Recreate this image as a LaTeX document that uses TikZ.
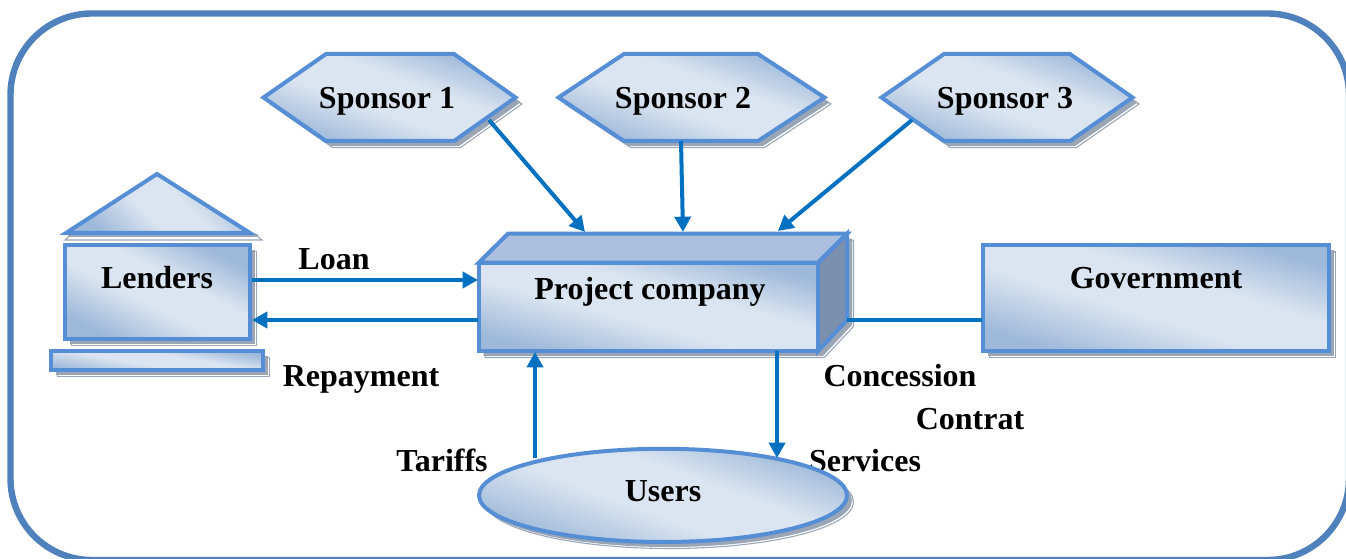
\documentclass[tikz,border=0pt]{standalone}
\usepackage{fontspec}
\setmainfont{Liberation Serif}
\usetikzlibrary{arrows.meta,calc}
\definecolor{edgeblue}{HTML}{558ED5}
\definecolor{framecol}{HTML}{4F81BD}
\definecolor{arrowblue}{HTML}{0070C0}
\definecolor{fillA}{HTML}{9DB8D9}
\definecolor{fillB}{HTML}{DBE5F1}
\definecolor{topface}{HTML}{ABC0DF}
\definecolor{sideface}{HTML}{7B8FAE}
\definecolor{shadowgrey}{HTML}{9AA5B5}
\pgfdeclarehorizontalshading{bandshade}{100bp}{color(0bp)=(fillA); color(25bp)=(fillA); color(44bp)=(fillB); color(58bp)=(fillB); color(75bp)=(fillA); color(100bp)=(fillA)}
\tikzset{
  x=0.75pt,y=-0.75pt,
  frameline/.style={draw=framecol,line width=4.8pt,rounded corners=61pt},
  body/.style={draw=edgeblue,line width=3pt,line join=miter,shading=bandshade,shading angle=70},
  bodyflat/.style={draw=edgeblue,line width=3pt,line join=miter},
  link/.style={draw=arrowblue,line width=3pt},
  arrowlink/.style={link,-{Triangle[length=11.5pt,width=12pt]}},
  lbl/.style={font=\bfseries\fontsize{24}{28}\selectfont,text=black,inner sep=0pt,anchor=base},
}
\newcommand{\dropshadow}[1]{%
  \draw[draw=shadowgrey,line width=0.8pt,fill=white,shift={(6.5,6.5)}] #1;
  \fill[shadowgrey,shift={(5,5)}] #1;
}
\begin{document}
\begin{tikzpicture}
\useasboundingbox (0,0) rectangle (1346,559);
\begin{scope}
\clip (0,0) rectangle (1346,559);
\draw[frameline] (10.5,13.5) rectangle (1349,560);
\end{scope}

% connector end points
\coordinate (s1out) at (489,120);
\coordinate (s1in) at (585,232);
\coordinate (s2out) at (681,141);
\coordinate (s2in) at (683,232);
\coordinate (s3out) at (912,120);
\coordinate (s3in) at (778,231);
\coordinate (loanA) at (252,280);
\coordinate (loanB) at (478,280);
\coordinate (repA) at (478,320);
\coordinate (repB) at (252,320);
\coordinate (govA) at (847,320);
\coordinate (govB) at (982,320);
\coordinate (tarA) at (535,458);
\coordinate (tarB) at (535,352);
\coordinate (serA) at (777,351);
\coordinate (serB) at (777,458);

% free labels (the ellipse lies over them)
\node[lbl] (loan) at (334,270) {Loan};
\node[lbl] (repayment) at (361,387) {Repayment};
\node[lbl] (concession) at (900,387) {Concession};
\node[lbl] (contrat) at (970,430) {Contrat};
\node[lbl] (tariffs) at (442,471) {Tariffs};
\node[lbl] (services) at (865,471) {Services};

% Sponsors
\foreach \xa/\xb/\xc/\xd/\nm/\cx in {263.5/326/454/515.5/Sponsor 1/387,558.5/624/758/824.5/Sponsor 2/683,881.5/944/1070/1132.5/Sponsor 3/1005}{
  \dropshadow{(\xa,97.5) -- (\xb,54) -- (\xc,54) -- (\xd,97.5) -- (\xc,141) -- (\xb,141) -- cycle}
  \draw[body] (\xa,97.5) -- (\xb,54) -- (\xc,54) -- (\xd,97.5) -- (\xc,141) -- (\xb,141) -- cycle;
  \node[lbl] at (\cx,109) {\nm};
}

% Lenders
\draw[draw=shadowgrey,line width=0.8pt,fill=white] (65,240) -- (72,234) -- (255,234) -- (262,240) -- cycle;
\fill[shadowgrey] (68,234) rectangle (258,237.5);
\draw[body,shading angle=45] (157,174) -- (250,233) -- (66,233) -- cycle;
\dropshadow{(65,245.3) rectangle (250.3,339)}
\draw[body,shading angle=63] (65,245.3) rectangle (250.3,339);
\node[lbl] (lenders) at (157,289) {Lenders};
\dropshadow{(51,351.3) rectangle (263,370.3)}
\draw[body,shading angle=80] (51,351.3) rectangle (263,370.3);

% Project company
\dropshadow{(478.7,262.7) -- (508,233.7) -- (847,233.7) -- (847,320) -- (818,351) -- (478.7,351) -- cycle}
\draw[bodyflat,fill=topface] (478.7,262.7) -- (508,233.7) -- (847,233.7) -- (818,262.7) -- cycle;
\draw[bodyflat,fill=sideface] (818,262.7) -- (847,233.7) -- (847,320) -- (818,351) -- cycle;
\draw[body,shading angle=75] (478.7,262.7) rectangle (818,351);
\node[lbl] (project) at (650,300) {Project company};

% Government
\dropshadow{(983,245.5) rectangle (1329,351.3)}
\draw[body,shading angle=73] (983,245.5) rectangle (1329,351.3);
\node[lbl] (government) at (1156,289) {Government};

% Users
\dropshadow{(663,495.4) ellipse [x radius=184,y radius=46.6]}
\draw[body,shading angle=70] (663,495.4) ellipse [x radius=184,y radius=46.6];
\node[lbl] (users) at (663,501) {Users};

% connectors
\draw[arrowlink] (s1out) -- (s1in);
\draw[arrowlink] (s2out) -- (s2in);
\draw[arrowlink] (s3out) -- (s3in);
\draw[arrowlink] (loanA) -- (loanB);
\draw[arrowlink] (repA) -- (repB);
\draw[link] (govA) -- (govB);
\draw[arrowlink] (tarA) -- (tarB);
\draw[arrowlink] (serA) -- (serB);
\end{tikzpicture}
\end{document}
